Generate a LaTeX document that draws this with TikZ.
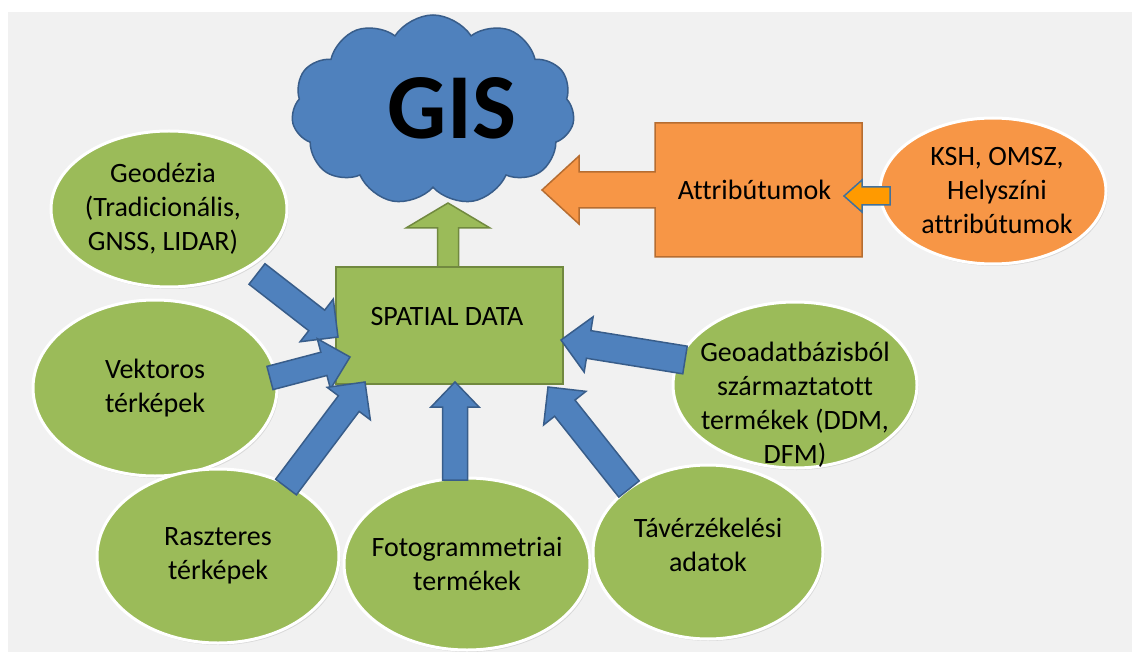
\documentclass[tikz,border=0pt]{standalone}
\usepackage{fontspec}
\setmainfont{Carlito}[Ligatures={NoCommon}]
\usetikzlibrary{shapes.geometric,shapes.symbols,calc,shadows}
\definecolor{bg}{HTML}{F1F1F1}
\definecolor{gfill}{HTML}{9BBB59}
\definecolor{gline}{HTML}{71893F}
\definecolor{bfill}{HTML}{4F81BD}
\definecolor{bline}{HTML}{385D8A}
\definecolor{ofill}{HTML}{F79646}
\definecolor{oline}{HTML}{B66D31}
\definecolor{sfill}{HTML}{FF9A00}
\definecolor{sline}{HTML}{41719C}

% #1 style, #2 from, #3 to, #4 half shaft, #5 half head, #6 head length
\newcommand\blockarrow[6]{%
  \path ($(#3)!#6!(#2)$) coordinate (hb);
  \filldraw[#1] ($(#2)!#4!90:(#3)$) -- ($(hb)!#4!90:(#3)$) -- ($(hb)!#5!90:(#3)$) -- (#3)
    -- ($(hb)!#5!-90:(#3)$) -- ($(hb)!#4!-90:(#3)$) -- ($(#2)!#4!-90:(#3)$) -- cycle;
}

\begin{document}
\begin{tikzpicture}[x=1pt,y=-1pt,
  font=\fontsize{28}{34}\selectfont,
  txt/.style={align=center, text=black, inner sep=0},
  gell/.style={ellipse, fill=gfill, draw=white, line width=3pt, inner sep=0,
    drop shadow={opacity=0.22, shadow xshift=1.5pt, shadow yshift=-2pt}},
  oell/.style={ellipse, fill=ofill, draw=white, line width=3pt, inner sep=0,
    drop shadow={opacity=0.22, shadow xshift=1.5pt, shadow yshift=-2pt}},
  barrow/.style={fill=bfill, draw=bline, line width=1.5pt, line join=miter},
  garrow/.style={fill=gfill, draw=gline, line width=1.5pt},
  sarrow/.style={fill=sfill, draw=sline, line width=1.5pt},
  ocall/.style={fill=ofill, draw=oline, line width=1.5pt},
  gbox/.style={rectangle, fill=gfill, draw=gline, line width=1.5pt, inner sep=0, outer sep=0},
  gisshape/.style={cloud, cloud puffs=11, cloud puff arc=115, aspect=1.5,
    fill=bfill, draw=bline, line width=1.5pt, inner sep=0,
    minimum width=283pt, minimum height=190pt}
]
\useasboundingbox (0,0) rectangle (1132,652);
\fill[white] (0,0) rectangle (1132,652);
\fill[bg] (8,12) rectangle (1132,652);

% cloud
\node[gisshape] (gis) at (433,110) {};
\node[txt, font=\fontsize{93}{100}\selectfont\bfseries] (gislabel) at (452,108) {GIS};

% green ellipses
\node[gell, minimum width=236pt, minimum height=156pt] (geo) at (169,209) {};
\node[txt] at ($(geo)+(-6,0)$) {Geodézia\\(Tradicionális,\\GNSS, LIDAR)};

\node[gell, minimum width=244pt, minimum height=176pt] (vek) at (155,388) {};
\node[txt] at (vek) {Vektoros\\térképek};

\node[gell, minimum width=242pt, minimum height=174pt] (rasz) at (218,556) {};
\node[txt] at (rasz) {Raszteres\\térképek};

\node[gell, minimum width=246pt, minimum height=172pt] (foto) at (467,564) {};
\node[txt] at (foto) {Fotogrammetriai\\termékek};

\node[gell, minimum width=230pt, minimum height=174pt] (tav) at (708,552) {};
\node[txt] at ($(tav)+(0,-7)$) {Távérzékelési\\adatok};

\node[gell, minimum width=244pt, minimum height=166pt] (geoad) at (795,385) {};
\node[txt] at ($(geoad)+(0,20)$) {Geoadatbázisból\\származtatott\\termékek (DDM,\\DFM)};

% green arrow to cloud
\coordinate (gistip) at (448,203);
\coordinate (spatialtop) at (448,267);
\blockarrow{garrow}{spatialtop}{gistip}{10.5pt}{42pt}{25pt}

% spatial data box
\node[gbox, minimum width=227pt, minimum height=117pt] (spatial) at (449.5,325.5) {};
\node[txt] at (447,317) {SPATIAL DATA};

% blue arrows
\coordinate (a1s) at (257,274); \coordinate (a1e) at (338,337);
\coordinate (a2s) at (270,378); \coordinate (a2e) at (350,357);
\coordinate (a3s) at (286,487); \coordinate (a3e) at (365,382);
\coordinate (a4s) at (455,480); \coordinate (a4e) at (455,382);
\coordinate (a5s) at (629,489); \coordinate (a5e) at (548,387);
\coordinate (a6s) at (685,360); \coordinate (a6e) at (561,340);
\blockarrow{barrow}{a1s}{a1e}{13pt}{27pt}{27pt}
\blockarrow{barrow}{a2s}{a2e}{12pt}{26pt}{27pt}
\blockarrow{barrow}{a3s}{a3e}{13pt}{27pt}{27pt}
\blockarrow{barrow}{a4s}{a4e}{12.5pt}{24pt}{25pt}
\blockarrow{barrow}{a5s}{a5e}{13pt}{27pt}{27pt}
\blockarrow{barrow}{a6s}{a6e}{14pt}{28pt}{28pt}

% orange callout
\node[rectangle, inner sep=0, outer sep=0, minimum width=207pt, minimum height=134pt] (attr) at (758.5,190) {};
\coordinate (attrtip) at (542,190);
\filldraw[ocall] (attr.north west) -- (attr.north east) -- (attr.south east) -- (attr.south west)
  -- ($(attr.west)+(0,18)$) -- ($(attr.west)+(-76,18)$) -- ($(attr.west)+(-76,34)$) -- (attrtip)
  -- ($(attr.west)+(-76,-34)$) -- ($(attr.west)+(-76,-18)$) -- ($(attr.west)+(0,-18)$) -- cycle;
\node[txt] at ($(attr)+(-4,0)$) {Attribútumok};

% KSH ellipse
\node[oell, minimum width=226pt, minimum height=146pt] (ksh) at (993,191) {};
\node[txt] at ($(ksh)+(4,0)$) {KSH, OMSZ,\\Helyszíni\\attribútumok};

% small arrow
\coordinate (stail) at (890,196);
\coordinate (stip) at (844,196);
\blockarrow{sarrow}{stail}{stip}{9pt}{16pt}{18pt}
\end{tikzpicture}
\end{document}
